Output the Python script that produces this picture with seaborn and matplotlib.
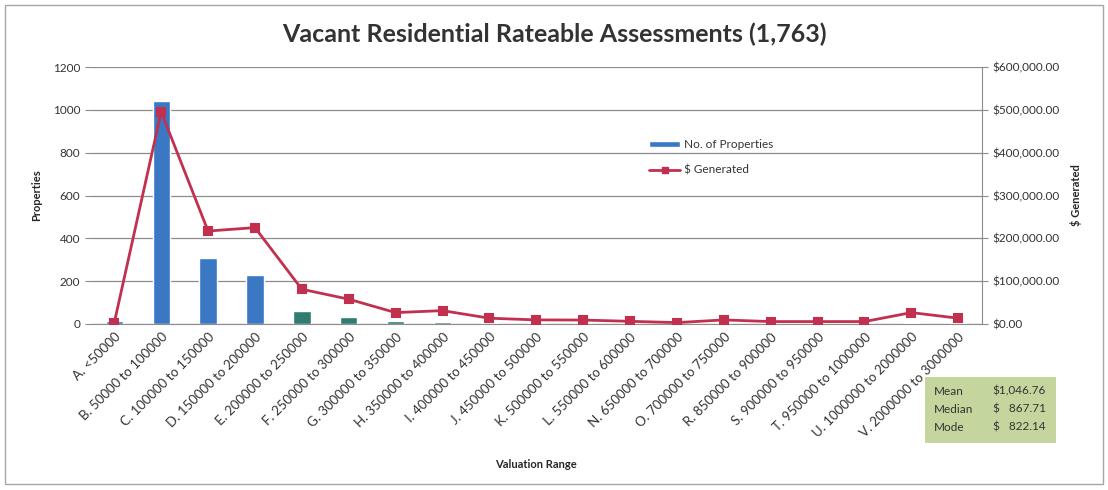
import pandas as pd
import numpy as np
import matplotlib.pyplot as plt
import seaborn as sns
from matplotlib.patches import Patch, Rectangle
from matplotlib.lines import Line2D

sns.set_style("white")
plt.rcParams['font.family'] = ['Lato', 'DejaVu Sans']

# data
ranges = ["A. <50000", "B. 50000 to 100000", "C. 100000 to 150000", "D. 150000 to 200000",
          "E. 200000 to 250000", "F. 250000 to 300000", "G. 300000 to 350000", "H. 350000 to 400000",
          "I. 400000 to 450000", "J. 450000 to 500000", "K. 500000 to 550000", "L. 550000 to 600000",
          "N. 650000 to 700000", "O. 700000 to 750000", "R. 850000 to 900000", "S. 900000 to 950000",
          "T. 950000 to 1000000", "U. 1000000 to 2000000", "V. 2000000 to 3000000"]
properties = [15, 1040, 310, 230, 58, 31, 12, 10, 4, 3, 3, 2, 1, 3, 2, 2, 2, 6, 2]
generated = [3000, 495600, 217000, 225000, 81000, 57700, 26400, 31000, 13300, 9300,
             9000, 6000, 3000, 9300, 5400, 5400, 5400, 26400, 13300]

stats_labels = ["Mean", "Median", "Mode"]
stats_values = ["$1,046.76", "$   867.71", "$   822.14"]

data = pd.DataFrame({"range": ranges, "properties": properties, "generated": generated})

blue = "#3A78C4"
teal = "#2F7D70"
bar_colors = [blue if p > 100 or i == 0 else teal for i, p in enumerate(properties)]
red = "#C2304F"
txt = "#333333"
grey = "#8C8C8C"

fig = plt.figure(figsize=(11.08, 4.9), dpi=100)
ax = fig.add_axes([0.082, 0.339, 0.804, 0.524])

# bars - number of properties
sns.barplot(data=data, x="range", y="properties", hue="range", palette=bar_colors,
            legend=False, width=0.37, ax=ax, saturation=1)
ax.set_ylim(0, 1200)
ax.set_yticks(np.arange(0, 1201, 200))
ax.yaxis.grid(True, color=grey, linewidth=0.9)
ax.set_axisbelow(True)
ax.set_xlim(-0.5, len(ranges) - 0.5)
ax.set_ylabel("Properties", fontsize=8, fontweight="bold", labelpad=8)
ax.set_xlabel("Valuation Range", fontsize=8, fontweight="bold", labelpad=14)
ax.tick_params(axis="y", labelsize=8.5, length=4, color=grey, colors=txt)
ax.set_xticks(range(len(ranges)))
ax.set_xticklabels(ranges, rotation=45, ha="right", rotation_mode="anchor", fontsize=9.5, color=txt)
ax.tick_params(axis="x", length=0, pad=5)
ax.set_xticks(np.arange(-0.5, len(ranges), 1), minor=True)
ax.tick_params(axis="x", which="minor", length=4, color=grey)
for side in ["top", "right", "left"]:
    ax.spines[side].set_visible(False)
ax.spines["bottom"].set_color(grey)

# line - $ generated
ax2 = ax.twinx()
sns.pointplot(data=data, x="range", y="generated", color=red, markers="s",
              linewidth=2, markersize=6, ax=ax2)
ax2.set_ylim(0, 600000)
ax2.set_yticks(np.arange(0, 600001, 100000))
ax2.set_yticklabels([f"${v:,.2f}" for v in np.arange(0, 600001, 100000)])
ax2.tick_params(axis="y", labelsize=8.5, length=4, color=grey, colors=txt)
ax2.set_ylabel("$ Generated", fontsize=8, fontweight="bold", labelpad=8)
ax2.set_xlim(-0.5, len(ranges) - 0.5)
ax2.set_xlabel("")
for side in ["top", "left", "bottom"]:
    ax2.spines[side].set_visible(False)
ax2.spines["right"].set_color(grey)

# legend
handles = [Patch(facecolor=blue, label="No. of Properties"),
           Line2D([0], [0], color=red, marker="s", markersize=5, linewidth=2, label="$ Generated")]
leg = ax2.legend(handles=handles, loc="upper left", bbox_to_anchor=(0.615, 0.76), frameon=False,
                 fontsize=8.5, handlelength=2.6, handleheight=0.35, labelspacing=1.2,
                 handletextpad=0.3)
for t in leg.get_texts():
    t.set_color(txt)

fig.suptitle("Vacant Residential Rateable Assessments (1,763)", fontsize=18,
             fontweight="bold", color=txt, y=0.955)

# stats box
fig.patches.append(Rectangle((925 / 1108, 1 - 443 / 490), 131 / 1108, 66 / 490,
                             transform=fig.transFigure, facecolor="#C4D69E", edgecolor="none"))
for i, (lab, val) in enumerate(zip(stats_labels, stats_values)):
    yy = 1 - (391 + i * 18) / 490
    fig.text(934 / 1108, yy, lab, fontsize=8.5, va="center", color=txt)
    fig.text(1046 / 1108, yy, val, fontsize=8.5, va="center", ha="right", color=txt)

# outer border
fig.patches.append(Rectangle((5 / 1108, 6 / 490), 1098 / 1108, 479 / 490, transform=fig.transFigure,
                             facecolor="none", edgecolor="#A6A6A6", linewidth=1))

fig.savefig("out.png", dpi=100)
